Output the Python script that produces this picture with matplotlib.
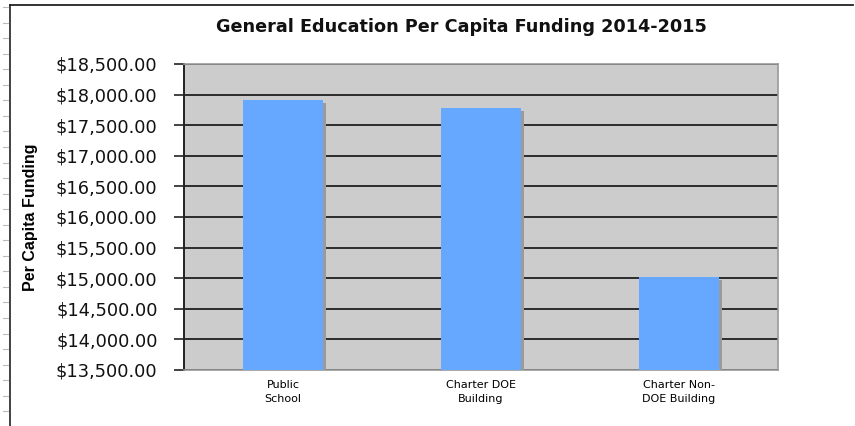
import matplotlib.pyplot as plt
import numpy as np
from matplotlib.lines import Line2D
from matplotlib.ticker import FuncFormatter

# per capita funding by school type, 2014-2015
categories = ["Public\nSchool", "Charter DOE\nBuilding", "Charter Non-\nDOE Building"]
funding = [17910.0, 17785.0, 15015.0]

y_min = 13500
y_max = 18500
y_step = 500

bar_color = "#66a8ff"
shadow_color = "#9a9a9a"
plot_bg = "#cccccc"

fig = plt.figure(figsize=(8.55, 4.26), dpi=100)
ax = fig.add_axes([0.2152, 0.1315, 0.6947, 0.7183])
ax.set_facecolor(plot_bg)

x = np.arange(len(categories))
width = 0.40

# soft drop shadow on the right side of each bar
shadow_dx = 0.018
shadow_dy = 50
ax.bar(x + shadow_dx, np.array(funding) - y_min - shadow_dy, width, bottom=y_min,
       color=shadow_color, zorder=2)
ax.bar(x, np.array(funding) - y_min, width, bottom=y_min, color=bar_color, zorder=3)

ax.set_xlim(-0.5, len(categories) - 0.5)
ax.set_ylim(y_min, y_max)
ax.set_yticks(np.arange(y_min, y_max + 1, y_step))
ax.yaxis.set_major_formatter(FuncFormatter(lambda v, p: "${:,.2f}".format(v)))
ax.yaxis.grid(True, color="#111111", linewidth=1.2, zorder=1)
ax.set_axisbelow(True)

ax.set_xticks(x)
ax.set_xticklabels(categories, fontsize=8, family="DejaVu Sans", linespacing=1.5)
ax.tick_params(axis="x", length=0, pad=7)
ax.tick_params(axis="y", length=7, width=1.2, color="#222222", pad=12,
               labelsize=12.8, labelcolor="#111111")

ax.spines["left"].set_color("#222222")
ax.spines["left"].set_linewidth(1.4)
for side in ("top", "right", "bottom"):
    ax.spines[side].set_color("#999999")
    ax.spines[side].set_linewidth(1.2)

W, H = 855.0, 426.0
fig.text(461 / W, 1 - 27 / H, "General Education Per Capita Funding 2014-2015",
         fontsize=12.7, fontweight="bold", color="#111111", ha="center", va="center")
ax.set_ylabel("Per Capita Funding", fontsize=11.5, fontweight="bold",
              family="Liberation Sans")
ax.yaxis.set_label_coords(-0.245, 0.5)

# page frame with ruler marks on the left
fig.add_artist(Line2D([10 / W, 10 / W], [0, 1 - 5 / H], color="#333333", lw=1.3))
fig.add_artist(Line2D([10 / W, 853 / W], [1 - 5 / H, 1 - 5 / H], color="#222222", lw=1.3))
for ty in np.arange(7, H, 15.55):
    fig.add_artist(Line2D([3 / W, 8 / W], [1 - ty / H, 1 - ty / H], color="#bbbbbb", lw=0.8))

fig.savefig("out.png", dpi=100)
